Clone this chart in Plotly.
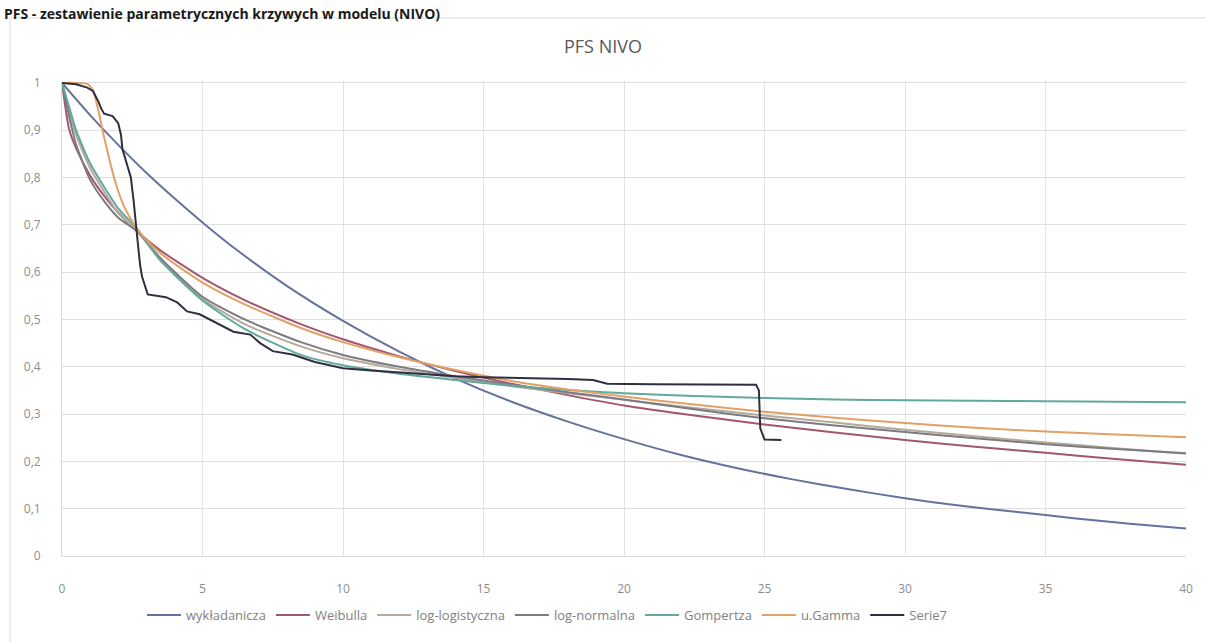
import plotly.graph_objects as go

# --- survival curves (PFS), time in months ---
t_exp = [0, 1, 2, 3, 4, 5, 6, 8, 10, 12, 14, 16, 18, 20, 22, 24, 26, 28, 30, 32, 34, 36, 38, 40]
s_exp = [1.0, 0.932, 0.869, 0.81, 0.756, 0.705, 0.657, 0.571, 0.497, 0.432, 0.375, 0.326,
         0.284, 0.247, 0.214, 0.186, 0.162, 0.141, 0.122, 0.106, 0.093, 0.080, 0.068, 0.058]

t_par = [0, 0.25, 0.5, 1, 1.5, 2, 2.7, 3.5, 5, 6.5, 8.5, 10, 12, 14, 16, 18, 20,
         22.5, 25, 27.5, 30, 32.5, 35, 37.5, 40]
s_weibull = [1.0, 0.903, 0.862, 0.804, 0.761, 0.726, 0.685, 0.646, 0.588, 0.541, 0.49, 0.458,
             0.422, 0.391, 0.364, 0.34, 0.318, 0.297, 0.278, 0.261, 0.245, 0.231, 0.218, 0.205, 0.193]
s_loglog = [1.0, 0.94, 0.89, 0.82, 0.77, 0.725, 0.685, 0.625, 0.543, 0.49, 0.443, 0.418,
            0.395, 0.376, 0.359, 0.344, 0.33, 0.313, 0.297, 0.282, 0.267, 0.253, 0.24, 0.228, 0.216]
s_lognorm = [1.0, 0.93, 0.87, 0.795, 0.75, 0.715, 0.685, 0.63, 0.548, 0.50, 0.452, 0.425,
             0.40, 0.38, 0.362, 0.346, 0.331, 0.31, 0.291, 0.276, 0.262, 0.249, 0.236, 0.226, 0.217]
s_gompertz = [1.0, 0.95, 0.90, 0.83, 0.78, 0.735, 0.69, 0.625, 0.54, 0.48, 0.425, 0.403,
              0.385, 0.372, 0.36, 0.351, 0.344, 0.338, 0.334, 0.331, 0.329, 0.328, 0.327, 0.326, 0.325]

t_gamma = [0, 0.5, 0.9, 1.1, 1.3, 1.5, 1.7, 1.9, 2.2, 2.7, 3.5, 5, 6.5, 8.5, 10, 12, 14, 16,
           18, 20, 22.5, 25, 27.5, 30, 32.5, 35, 37.5, 40]
s_gamma = [1.0, 1.0, 0.998, 0.985, 0.94, 0.885, 0.835, 0.79, 0.74, 0.688, 0.64, 0.578, 0.532,
           0.482, 0.452, 0.42, 0.393, 0.37, 0.352, 0.337, 0.32, 0.305, 0.292, 0.281, 0.271,
           0.263, 0.257, 0.251]

# Kaplan-Meier estimate
t_km = [0, 0.5, 0.9, 1.1, 1.3, 1.4, 1.5, 1.8, 2.0, 2.1, 2.15, 2.3, 2.45, 2.55, 2.62, 2.7,
        2.78, 2.85, 3.05, 3.7, 4.1, 4.45, 4.9, 5.4, 6.1, 6.7, 7.05, 7.5, 8.2, 9.0, 10, 11,
        12, 13, 14, 15, 16, 18, 18.9, 19.4, 21, 24.3, 24.7, 24.8, 24.85, 25.0, 25.6]
s_km = [1.0, 0.997, 0.99, 0.983, 0.96, 0.945, 0.935, 0.93, 0.915, 0.89, 0.86, 0.83, 0.80,
        0.75, 0.70, 0.66, 0.615, 0.59, 0.553, 0.547, 0.536, 0.517, 0.511, 0.495, 0.474,
        0.468, 0.45, 0.433, 0.426, 0.41, 0.397, 0.392, 0.388, 0.383, 0.38, 0.378, 0.377,
        0.374, 0.372, 0.364, 0.363, 0.363, 0.362, 0.35, 0.27, 0.246, 0.245]

x_ticks = [0, 5, 10, 15, 20, 25, 30, 35, 40]
y_ticks = [0, 0.1, 0.2, 0.3, 0.4, 0.5, 0.6, 0.7, 0.8, 0.9, 1.0]
y_tick_text = ["0", "0,1", "0,2", "0,3", "0,4", "0,5", "0,6", "0,7", "0,8", "0,9", "1"]

series = [
    ("wykładanicza", t_exp, s_exp, "#66729c", "spline"),
    ("Weibulla", t_par, s_weibull, "#a3566f", "spline"),
    ("log-logistyczna", t_par, s_loglog, "#b3aa9a", "spline"),
    ("log-normalna", t_par, s_lognorm, "#7c7b84", "spline"),
    ("Gompertza", t_par, s_gompertz, "#62a89b", "spline"),
    ("u.Gamma", t_gamma, s_gamma, "#e2a066", "spline"),
    ("Serie7", t_km, s_km, "#2e2f3f", "linear"),
]

fig = go.Figure()
for name, xs, ys, color, shape in series:
    fig.add_trace(go.Scatter(
        x=xs, y=ys, name=name, mode="lines",
        line=dict(color=color, width=2, shape=shape,
                  smoothing=0.6 if shape == "spline" else None),
    ))

W, H = 1206, 642
ML, MR, MT, MB = 62, 20, 81, 79
pw, ph = W - ML - MR, H - MT - MB


def px_x(p):
    return (p - ML) / pw


def px_y(p):
    return (H - MB - p) / ph


TXT = "'Open Sans', Lato, sans-serif"

fig.update_layout(
    width=W, height=H,
    margin=dict(l=ML, r=MR, t=MT, b=MB),
    paper_bgcolor="white", plot_bgcolor="white",
    font=dict(family=TXT, color="#808080", size=12),
    title=dict(text="PFS NIVO", x=0.5, xanchor="center", y=1 - 47 / H, yanchor="middle",
               font=dict(size=18, color="#595959", family=TXT)),
    showlegend=True,
    legend=dict(orientation="h", x=px_x(142), xanchor="left", y=px_y(623), yanchor="middle",
                font=dict(size=13, color="#7f7f7f", family=TXT), bgcolor="rgba(0,0,0,0)",
                itemwidth=34),
    xaxis=dict(range=[0, 40], tickvals=x_ticks, showgrid=True, gridcolor="#e3e3e3",
               gridwidth=1, zeroline=False, showline=True, linecolor="#d9d9d9",
               ticks="", ticklabelstandoff=22, tickfont=dict(size=12, color="#8c8c8c")),
    yaxis=dict(range=[0, 1.004], tickvals=y_ticks, ticktext=y_tick_text, showgrid=True,
               gridcolor="#dedede", gridwidth=1, zeroline=False, showline=True,
               linecolor="#d9d9d9", ticks="", ticklabelstandoff=18,
               tickfont=dict(size=12, color="#8c8c8c")),
    shapes=[dict(type="rect", xref="paper", yref="paper",
                 x0=px_x(10), x1=px_x(1240), y0=px_y(680), y1=px_y(17),
                 line=dict(color="#d9d9d9", width=1), fillcolor="rgba(0,0,0,0)")],
    annotations=[dict(text="<b>PFS - zestawienie parametrycznych krzywych w modelu (NIVO)</b>",
                      xref="paper", yref="paper", x=px_x(2), xanchor="left",
                      y=px_y(1), yanchor="top", showarrow=False,
                      font=dict(size=14, color="#1a1a1a", family=TXT))],
)

fig.write_html("out.html")
